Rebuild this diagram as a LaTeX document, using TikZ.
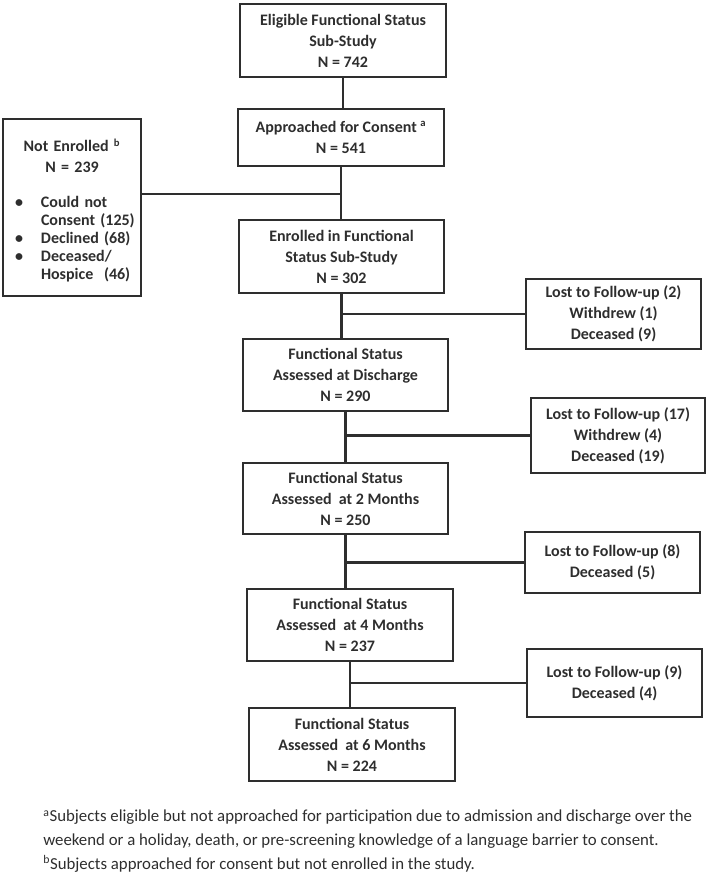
\documentclass[tikz,border=0pt]{standalone}
\usepackage{fontspec}
\setmainfont{Carlito}
\usetikzlibrary{calc}
\definecolor{ink}{HTML}{2E2E2E}
\tikzset{
  box/.style={draw=ink, line width=1.8pt, rectangle, inner sep=0pt, align=center,
    font=\bfseries\fontsize{12pt}{15.8pt}\selectfont, text=ink},
  conn/.style={draw=ink, line width=1.8pt}
}
\begin{document}
\begin{tikzpicture}[x=0.75pt, y=-0.75pt]
\useasboundingbox (0,0) rectangle (709,875);
% main column
\node[box, minimum width=206*0.75pt, minimum height=73*0.75pt] (b1) at (343,40.5)
  {Eligible Functional Status\\Sub-Study\\N = 742};
\node[box, minimum width=206*0.75pt, minimum height=57*0.75pt] (b2) at (341,137.5)
  {Approached for Consent \textsuperscript{a}\\N = 541};
\node[box, minimum width=205*0.75pt, minimum height=73*0.75pt] (b3) at (341.5,256.5)
  {Enrolled in Functional\\Status Sub-Study\\N = 302};
\node[box, minimum width=205*0.75pt, minimum height=72*0.75pt] (b4) at (345.5,375)
  {Functional Status\\Assessed at Discharge\\N = 290};
\node[box, minimum width=205*0.75pt, minimum height=71*0.75pt] (b5) at (345.5,498.5)
  {Functional Status\\Assessed\ \ at 2 Months\\N = 250};
\node[box, minimum width=206*0.75pt, minimum height=72*0.75pt] (b6) at (350,625)
  {Functional Status\\Assessed\ \ at 4 Months\\N = 237};
\node[box, minimum width=206*0.75pt, minimum height=73*0.75pt] (b7) at (352,744.5)
  {Functional Status\\Assessed\ \ at 6 Months\\N = 224};
% side boxes
\node[box, minimum width=175*0.75pt, minimum height=70*0.75pt] (l1) at (613.5,314)
  {Lost to Follow-up (2)\\Withdrew (1)\\Deceased (9)};
\node[box, minimum width=174*0.75pt, minimum height=75*0.75pt] (l2) at (618,435.5)
  {Lost to Follow-up (17)\\Withdrew (4)\\Deceased (19)};
\node[box, minimum width=175*0.75pt, minimum height=61*0.75pt] (l3) at (612.5,562.5)
  {Lost to Follow-up (8)\\Deceased (5)};
\node[box, minimum width=175*0.75pt, minimum height=68*0.75pt] (l4) at (614.5,683)
  {Lost to Follow-up (9)\\Deceased (4)};
% not enrolled
\node[box, align=left, minimum width=138*0.75pt, minimum height=177*0.75pt, text width=138*0.75pt] (ne) at (72,207.5)
  {{\centering\rule{0pt}{16pt}Not Enrolled \textsuperscript{b}\\N = 239\par}\vspace{15pt}%
   \fontsize{12pt}{13.5pt}\selectfont
   \hspace*{9pt}\begin{tabular}{@{}p{19.5pt}@{}l@{}}
   \textbullet & Could not\\
               & Consent (125)\\
   \textbullet & Declined (68)\\
   \textbullet & Deceased/\\
               & Hospice\ \ (46)
   \end{tabular}};
% connectors
\draw[conn] (b1.south) -- (b1.south |- b2.north);
\draw[conn] (b2.south) -- (b2.south |- b3.north);
\coordinate (j1) at ($(b2.south)!0.52!(b2.south |- b3.north)$);
\draw[conn] (j1) -- (j1 -| ne.east);
\draw[conn] (b3.south) -- (b3.south |- b4.north);
\draw[conn] (l1.west) -- (l1.west -| b3.south);
\draw[conn] (b4.south) -- (b4.south |- b5.north);
\draw[conn] (l2.west) -- (l2.west -| b4.south);
\draw[conn] (b5.south) -- (b5.south |- b6.north);
\draw[conn] (l3.west) -- (l3.west -| b5.south);
\draw[conn] (b6.south) -- (b6.south |- b7.north);
\draw[conn] (l4.west) -- (l4.west -| b6.south);
% footnotes
\node[anchor=north west, inner sep=0pt, align=left, text=ink,
      font=\fontsize{12.6pt}{17.8pt}\selectfont] (fn) at (43,810)
  {\textsuperscript{a}Subjects eligible but not approached for participation due to admission and discharge over the\\
   weekend or a holiday, death, or pre-screening knowledge of a language barrier to consent.\\
   \textsuperscript{b}Subjects approached for consent but not enrolled in the study.};
\end{tikzpicture}
\end{document}
